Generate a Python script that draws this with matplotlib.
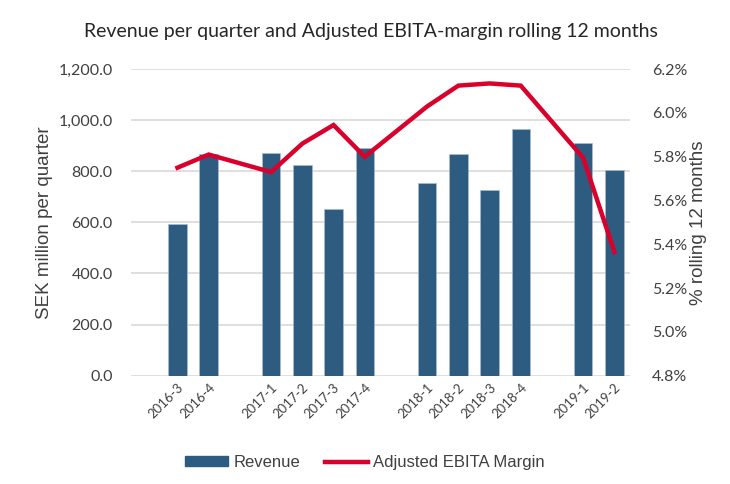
import matplotlib
matplotlib.use('Agg')
import matplotlib.pyplot as plt
from matplotlib.ticker import FuncFormatter
from matplotlib.lines import Line2D
from matplotlib.patches import Patch

# empty strings are the gaps between years
quarters = ['', '2016-3', '2016-4', '', '2017-1', '2017-2', '2017-3', '2017-4',
            '', '2018-1', '2018-2', '2018-3', '2018-4', '', '2019-1', '2019-2']
revenue = [None, 594, 866, None, 870, 825, 653, 893,
           None, 756, 866, 725, 966, None, 911, 807]
margin = [None, 5.75, 5.81, None, 5.73, 5.86, 5.945, 5.80,
          None, 6.03, 6.125, 6.135, 6.125, None, 5.795, 5.365]

bar_color = '#2E5B80'
line_color = '#D9002B'
text_color = '#404040'

fig = plt.figure(figsize=(7.3, 4.84), dpi=100)
ax = fig.add_axes([0.179, 0.224, 0.684, 0.633])
ax2 = ax.twinx()

xs = [i for i, v in enumerate(revenue) if v is not None]
ax.bar(xs, [revenue[i] for i in xs], width=0.59, color=bar_color,
       edgecolor='#A9BCD0', linewidth=0.5, zorder=2)
ax2.plot(xs, [margin[i] for i in xs], color=line_color, linewidth=3.2,
         solid_joinstyle='miter', zorder=3)

ax.set_xlim(-0.5, len(quarters) - 0.5)
ax.set_ylim(0, 1200)
ax.set_yticks(range(0, 1201, 200))
ax.yaxis.set_major_formatter(FuncFormatter(lambda v, p: f'{v:,.1f}'))
ax2.set_ylim(4.8, 6.2)
ax2.set_yticks([4.8, 5.0, 5.2, 5.4, 5.6, 5.8, 6.0, 6.2])
ax2.yaxis.set_major_formatter(FuncFormatter(lambda v, p: f'{v:.1f}%'))

ax.set_xticks(xs)
ax.set_xticklabels([quarters[i] for i in xs], rotation=45, ha='right',
                   rotation_mode='anchor', fontsize=9.5, color=text_color,
                   family='Lato')
ax.grid(axis='y', color='#D9D9D9', linewidth=1.2, zorder=0)
ax.set_axisbelow(True)

for a in (ax, ax2):
    for s in a.spines.values():
        s.set_visible(False)
    a.tick_params(length=0, colors=text_color)
for lab in ax.get_yticklabels() + ax2.get_yticklabels():
    lab.set_family('Lato')
    lab.set_fontsize(11.5)
    lab.set_color(text_color)
ax.tick_params(axis='y', pad=13)
ax2.tick_params(axis='y', pad=16)
ax.tick_params(axis='x', pad=4)

ax.set_ylabel('SEK million per quarter', family='Liberation Sans', fontsize=13.5,
              color=text_color, labelpad=4)
ax2.set_ylabel('% rolling 12 months', family='Liberation Sans', fontsize=13.5,
               color=text_color, labelpad=2)

fig.text(0.508, 0.935, 'Revenue per quarter and Adjusted EBITA-margin rolling 12 months',
         ha='center', va='center', family='Lato', fontsize=14, color='#262626')

handles = [Patch(color=bar_color, label='Revenue'),
           Line2D([], [], color=line_color, linewidth=3.2, label='Adjusted EBITA Margin')]
fig.legend(handles=handles, loc='center', bbox_to_anchor=(0.5, 0.044), ncol=2,
           frameon=False, prop={'family': 'Liberation Sans', 'size': 12},
           labelcolor=text_color, handlelength=2.6, handleheight=0.55,
           columnspacing=1.5, handletextpad=0.3)

fig.savefig('out.png', dpi=100)
